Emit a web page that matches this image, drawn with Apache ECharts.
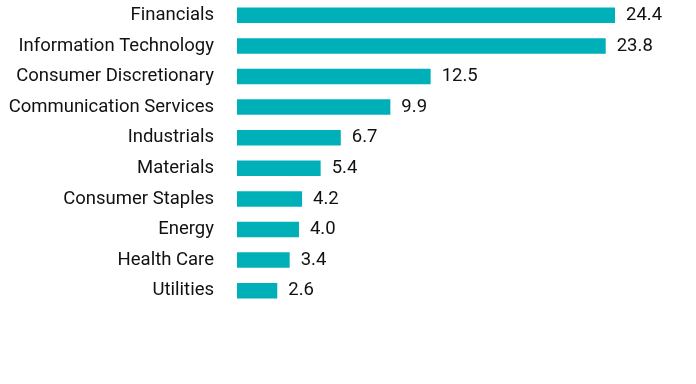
<!DOCTYPE html>
<html><head><meta charset="utf-8">
<script src="https://cdn.jsdelivr.net/npm/echarts@6/dist/echarts.min.js"></script>
<style>html,body{margin:0;padding:0;background:#fff}#c{width:696px;height:384px}</style>
</head><body><div id="c"></div>
<script>
const categories = ["Financials","Information Technology","Consumer Discretionary","Communication Services","Industrials","Materials","Consumer Staples","Energy","Health Care","Utilities"];
const values = [24.4,23.8,12.5,9.9,6.7,5.4,4.2,4.0,3.4,2.6];
const chart = echarts.init(document.getElementById('c'));
chart.setOption({
  animation:false,
  grid:{left:237,right:81,top:0,height:306},
  xAxis:{type:'value',min:0,max:24.4,show:false},
  yAxis:{type:'category',inverse:true,data:categories,
    axisLine:{show:false},axisTick:{show:false},
    axisLabel:{margin:23,color:'#111',fontFamily:'Roboto',fontSize:18.5}},
  series:[{type:'bar',data:values,barWidth:15.5,
    itemStyle:{color:'#00b0b9'},
    label:{show:true,position:'right',distance:11,color:'#111',fontFamily:'Roboto',fontSize:18.5,
      formatter:p=>p.value.toFixed(1)}}]
});
</script></body></html>
